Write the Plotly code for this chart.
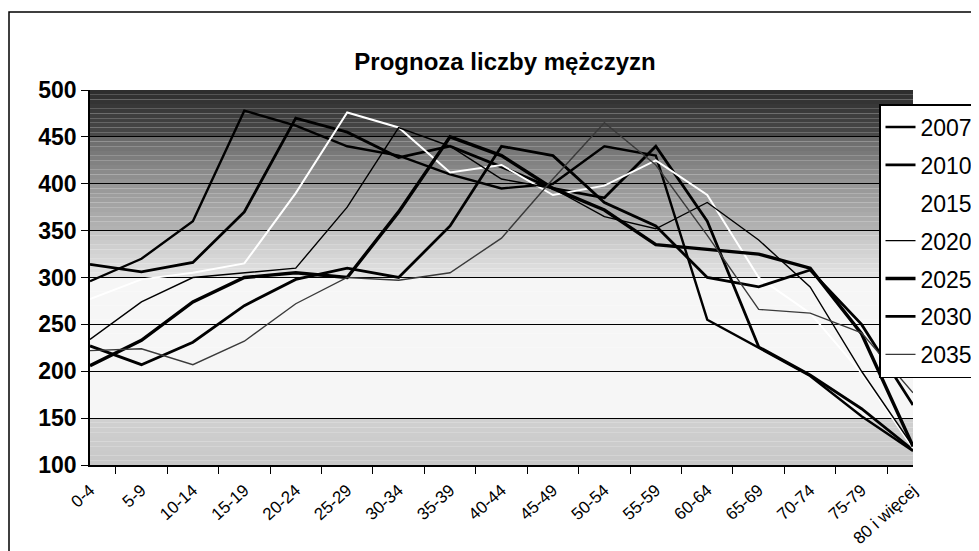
import plotly.graph_objects as go

ages = ["0-4", "5-9", "10-14", "15-19", "20-24", "25-29", "30-34", "35-39", "40-44",
        "45-49", "50-54", "55-59", "60-64", "65-69", "70-74", "75-79", "80 i więcej"]

y2007 = [296, 320, 360, 478, 462, 440, 430, 410, 395, 400, 440, 430, 255, 225, 195, 152, 115]
y2010 = [314, 306, 316, 370, 470, 455, 428, 440, 418, 395, 385, 440, 360, 226, 196, 160, 116]
y2015 = [277, 298, 305, 315, 390, 476, 460, 412, 420, 388, 398, 425, 388, 300, 262, 198, 118]
y2020 = [234, 274, 300, 305, 310, 375, 460, 440, 405, 395, 365, 352, 380, 340, 290, 200, 120]
y2025 = [206, 233, 274, 300, 305, 300, 370, 450, 430, 395, 372, 335, 330, 325, 310, 240, 120]
y2030 = [227, 207, 231, 270, 298, 310, 300, 355, 440, 430, 380, 355, 300, 290, 308, 250, 164]
y2035 = [222, 224, 207, 232, 272, 300, 297, 305, 342, 405, 465, 420, 345, 266, 262, 241, 177]

series = [
    ("2007", y2007, "#000000", 2.4),
    ("2010", y2010, "#000000", 2.8),
    ("2015", y2015, "#ffffff", 2.0),
    ("2020", y2020, "#000000", 1.4),
    ("2025", y2025, "#000000", 3.4),
    ("2030", y2030, "#000000", 2.8),
    ("2035", y2035, "#3a3a3a", 1.4),
]

fig = go.Figure()
for name, vals, col, w in series:
    fig.add_trace(go.Scatter(x=ages, y=vals, name=name, mode="lines",
                             legendgroup=name,
                             line=dict(color=col, width=w)))

def lerp(a, b, t):
    return a + (b - a) * t

bands = [  # (v_top, v_bottom, gray_top, gray_bottom)
    (500, 450, 45, 75),
    (450, 400, 105, 150),
    (400, 350, 150, 180),
    (350, 300, 195, 228),
    (300, 150, 246, 246),
    (150, 100, 208, 200),
]
shapes = []
for vt, vb, gt, gb in bands:
    n = 10
    for i in range(n):
        t0 = i / n
        t1 = (i + 1) / n
        y0 = vt - (vt - vb) * t0
        y1 = vt - (vt - vb) * t1
        g = int(round(lerp(gt, gb, (t0 + t1) / 2)))
        shapes.append(dict(type="rect", xref="x domain", yref="y domain",
                           x0=0, x1=1, y0=(y1 - 100) / 400, y1=(y0 - 100) / 400,
                           fillcolor=f"rgb({g},{g},{g})", line=dict(width=0),
                           layer="below"))

# the page body adds an 8px offset; figure is sized so it fills the 979x551 window
OFF = 8
W, H = 979 - OFF, 551 - OFF
L, R, T, B = 90 - OFF, 979 - 913, 90 - OFF, 551 - 465
pw = W - L - R
ph = H - T - B
def px2x(px):  # picture pixel -> paper x
    return (px - OFF - L) / pw
def py2y(py):  # picture pixel -> paper y
    return (H - B - (py - OFF)) / ph

# outer chart frame (right/bottom edges fall outside the picture)
shapes.append(dict(type="rect", xref="paper", yref="paper",
                   x0=px2x(9), x1=px2x(995), y0=py2y(570), y1=py2y(12),
                   line=dict(color="black", width=1.5), fillcolor="rgba(0,0,0,0)"))

fig.update_layout(
    width=W, height=H,
    margin=dict(l=L, r=R, t=T, b=B, autoexpand=False),
    paper_bgcolor="white",
    plot_bgcolor="white",
    shapes=shapes,
    title=dict(text="<b>Prognoza liczby mężczyzn</b>", x=(505 - OFF) / W, xanchor="center",
               y=1 - (62 - OFF) / H, yanchor="middle",
               font=dict(family="Liberation Sans, Arial", size=24, color="black")),
    showlegend=True,
    legend=dict(x=px2x(879), xanchor="left", y=py2y(104), yanchor="top",
                bgcolor="white", bordercolor="black", borderwidth=1.5,
                font=dict(family="Liberation Sans, Arial", size=23, color="black"),
                tracegroupgap=5, itemwidth=30),
)

fig.update_xaxes(
    type="category", tickangle=-42, tickson="boundaries",
    ticks="outside", ticklen=7, tickcolor="black",
    showline=True, linecolor="black", linewidth=1.5,
    showgrid=False, ticklabelstandoff=7, automargin=False,
    tickfont=dict(family="Liberation Sans, Arial", size=17, color="black"),
)
fig.update_yaxes(
    range=[100, 500], dtick=50, tick0=100,
    ticks="outside", ticklen=7, tickcolor="black",
    showline=True, linecolor="black", linewidth=1.5,
    showgrid=True, gridcolor="black", gridwidth=1, automargin=False,
    tickfont=dict(family="Liberation Sans, Arial", size=23, color="black", weight="bold"),
    zeroline=False,
)

fig.write_html("out.html")
